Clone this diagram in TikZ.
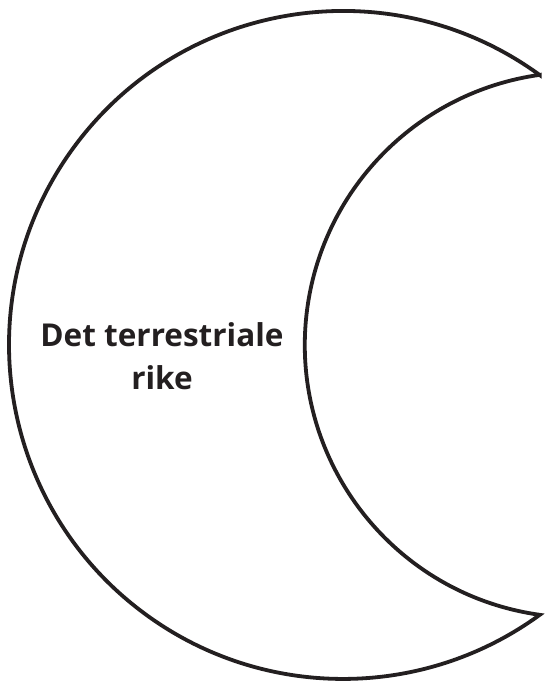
\documentclass[tikz,border=0pt]{standalone}
\usepackage{fontspec}
\setmainfont{Open Sans}
\definecolor{ink}{HTML}{231F20}
\begin{document}
\begin{tikzpicture}[x=1pt,y=1pt,
  moon/.style={draw=ink,line width=3.8pt,line join=miter,fill=white},
  label/.style={text=ink,font=\fontsize{31.5}{43}\selectfont\bfseries,align=center}]
\useasboundingbox (0,0) rectangle (546,681);
\draw[moon] (539.8,605.9) arc[start angle=53.9,end angle=306.1,radius=334]
  arc[start angle=262.07,end angle=97.93,radius=272.6] -- cycle;
\node[label] (t) at (162,325) {Det terrestriale\\rike};
\end{tikzpicture}
\end{document}
